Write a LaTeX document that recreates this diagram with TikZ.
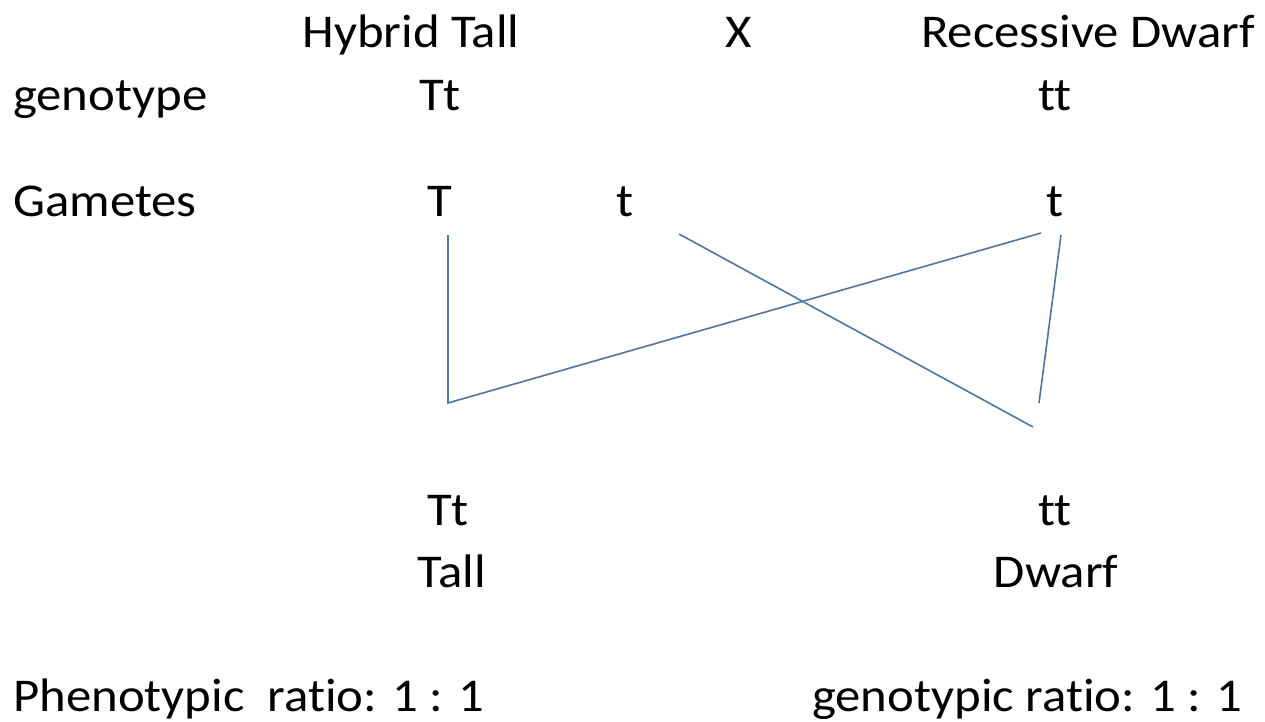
\documentclass[tikz,border=0pt]{standalone}
\usepackage{fontspec}
\setmainfont{Carlito}[Ligatures=NoCommon]
\definecolor{crossline}{RGB}{78,118,165}
% text is set slightly wide
\newcommand\widetext[1]{\scalebox{1.08}[1]{#1}}
\begin{document}
\begin{tikzpicture}[x=1pt,y=-1pt,
  lbl/.style={anchor=base,inner sep=0pt,font=\fontsize{47}{56}\selectfont},
  lblw/.style={lbl,anchor=base west},
  cross/.style={draw=crossline,line width=1.6pt}]
\useasboundingbox[fill=white] (0,0) rectangle (1265,721);
% parents
\node[lbl] (p1) at (411,47) {\widetext{Hybrid Tall}};
\node[lbl] (x) at (739,47) {\widetext{X}};
\node[lbl] (p2) at (1088,47) {\widetext{Recessive Dwarf}};
% genotypes
\node[lblw] (gl) at (13,110) {\widetext{genotype}};
\node[lbl] (g1) at (440,110) {\widetext{Tt}};
\node[lbl] (g2) at (1055,110) {\widetext{tt}};
% gametes
\node[lblw] (ml) at (13,216) {\widetext{Gametes}};
\node[lbl] (m1) at (440,216) {\widetext{T}};
\node[lbl] (m2) at (625,216) {\widetext{t}};
\node[lbl] (m3) at (1055,216) {\widetext{t}};
% offspring
\node[lbl] (o1) at (448,525) {\widetext{Tt}};
\node[lbl] (o2) at (1055,525) {\widetext{tt}};
\node[lbl] (f1) at (452,587) {\widetext{Tall}};
\node[lbl] (f2) at (1056,587) {\widetext{Dwarf}};
% ratios
\node[lblw] (r1) at (13,711) {\widetext{Phenotypic\ \ ratio: 1 : 1}};
\node[lblw] (r2) at (812,711) {\widetext{genotypic ratio: 1 : 1}};
% crossing lines
\coordinate (aT) at (448,235);
\coordinate (bT) at (448,403);
\coordinate (at) at (679,234);
\coordinate (bt) at (1033,427);
\coordinate (ar) at (1041,233);
\coordinate (ar2) at (1061,235);
\coordinate (br) at (1039,403);
\draw[cross] (aT) -- (bT) -- (ar);
\draw[cross] (at) -- (bt);
\draw[cross] (ar2) -- (br);
\end{tikzpicture}
\end{document}
